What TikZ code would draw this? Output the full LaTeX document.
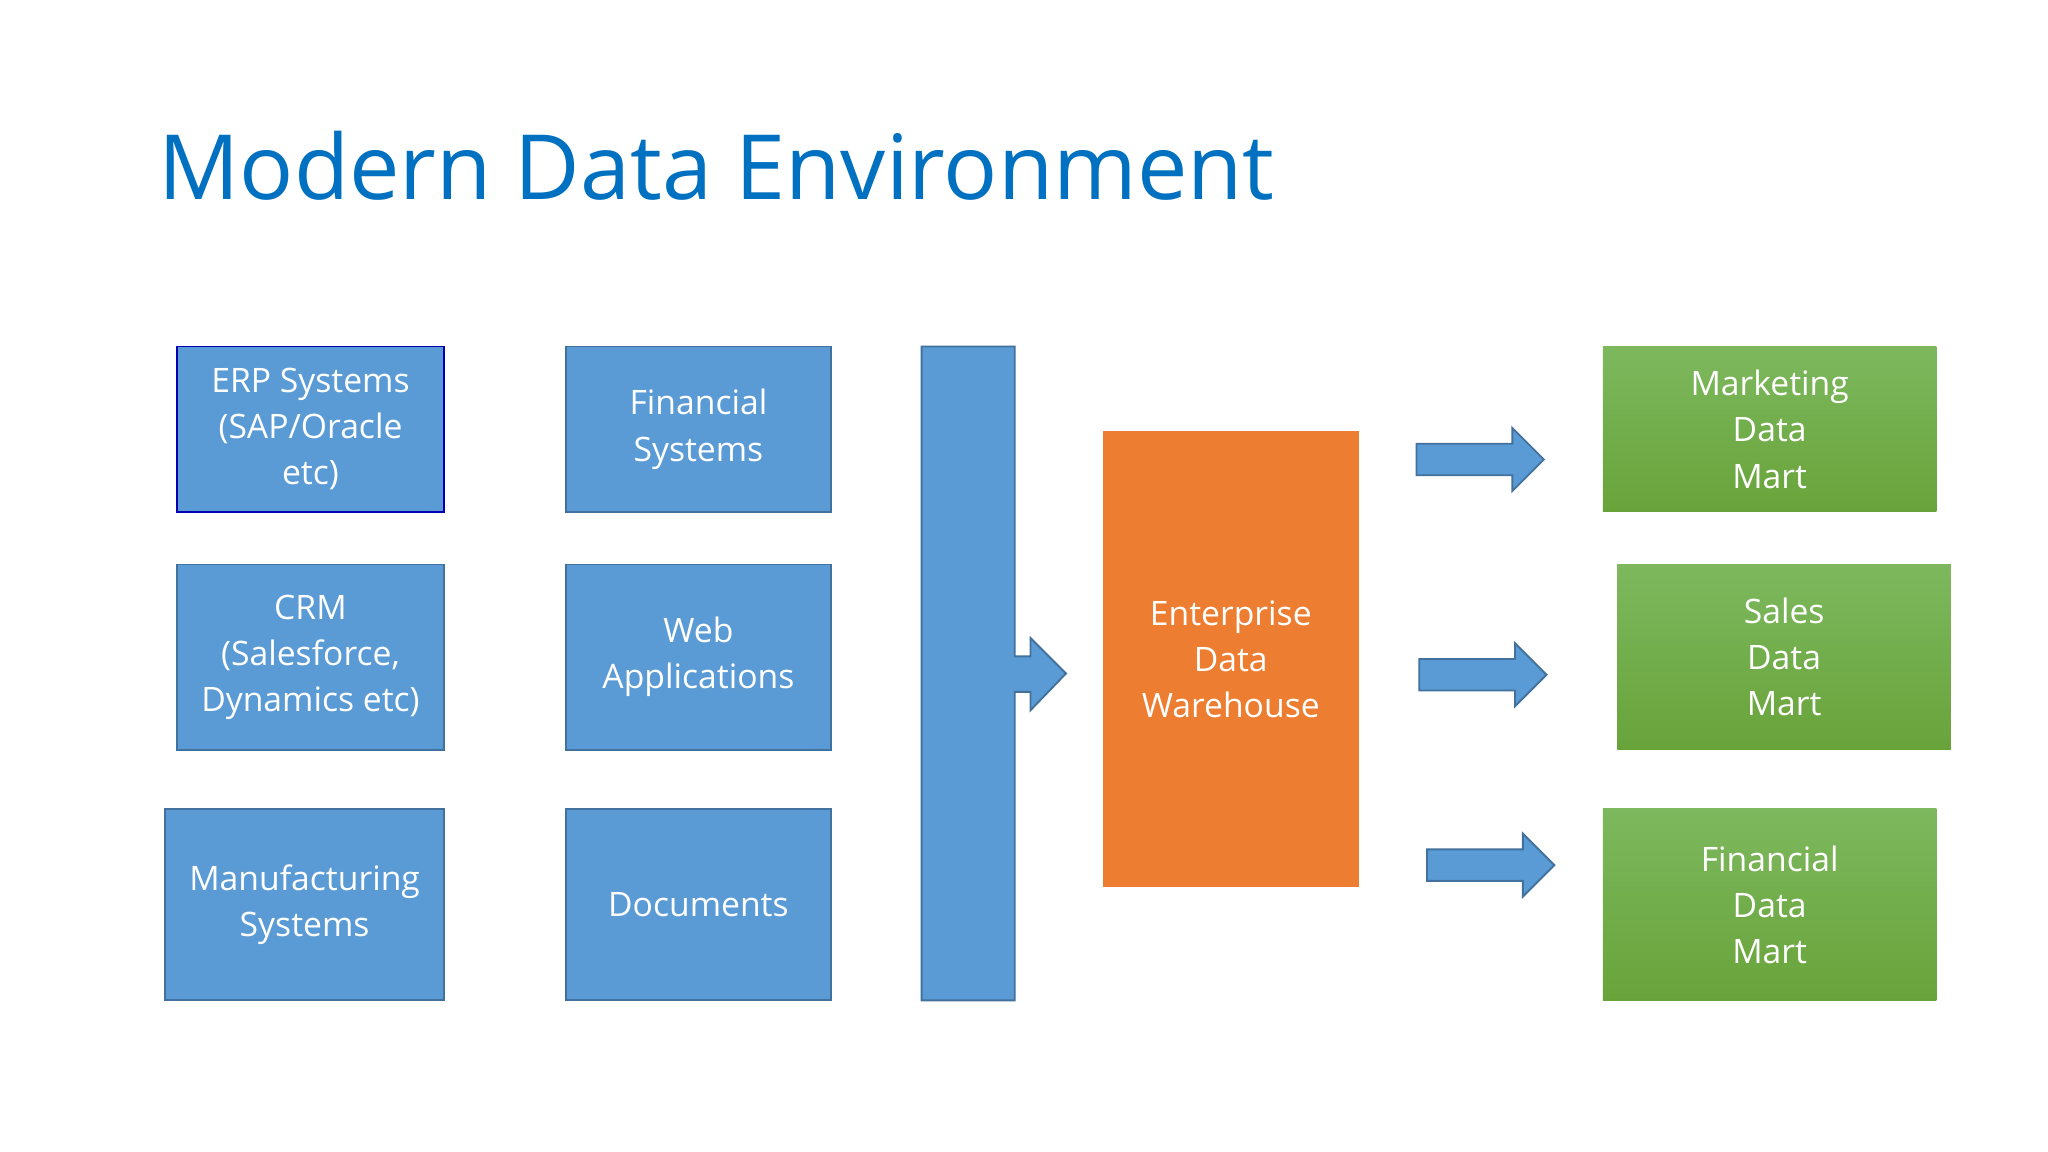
\documentclass[tikz,border=0pt]{standalone}
\usepackage{fontspec}
\setmainfont{Open Sans}
\begin{document}
\begin{tikzpicture}[x=0.1mm,y=-0.1mm,
 src/.style={draw=arrb, fill=srcblue, line width=0.4pt, text=white, align=center, font=\fontsize{7.3}{10}\selectfont, inner sep=0pt},
 mart/.style={draw=none, top color=mtop, bottom color=mbot, text=white, align=center, font=\fontsize{7.3}{10}\selectfont, inner sep=0pt},
 core/.style={draw=none, fill=edwc, text=white, align=center, font=\fontsize{7.3}{10}\selectfont, inner sep=0pt},
 arr/.style={fill=srcblue, draw=arrb, line width=0.4pt}]
\definecolor{srcblue}{HTML}{5B9BD5}
\definecolor{arrb}{HTML}{41719C}
\definecolor{mtop}{HTML}{7DB85E}
\definecolor{mbot}{HTML}{68A33A}
\definecolor{edwc}{HTML}{ED7D31}
\definecolor{titleblue}{HTML}{0070C0}
\useasboundingbox[fill=white] (0,0) rectangle (1560,877.5);
\node[anchor=base west, text=titleblue, font=\fontsize{19.5}{22}\selectfont, inner sep=0pt] (title) at (120,152) {Modern Data Environment};
\newcommand\bx[6]{\node[#1, minimum width={(#4-#2)*0.1mm}, minimum height={(#5-#3)*0.1mm}] (#6) at ({(#2+#4)/2},{(#3+#5)/2})}
\bx{src,draw=blue!70!black}{135}{264}{338}{390}{erp} {ERP Systems\\(SAP/Oracle\\etc)};
\bx{src}{431}{264}{633}{390}{fin} {Financial\\Systems};
\bx{src}{135}{430}{338}{571}{crm} {CRM\\(Salesforce,\\Dynamics etc)};
\bx{src}{431}{430}{633}{571}{web} {Web\\Applications};
\bx{src}{126}{616}{338}{762}{man} {Manufacturing\\Systems};
\bx{src}{431}{616}{633}{762}{doc} {Documents};
\draw[arr] (702,264) -- (773,264) -- (773,500) -- (785,500) -- (785,486) -- (812,513) -- (785,541) -- (785,527) -- (773,527) -- (773,762) -- (702,762) -- cycle;
\bx{core}{840}{328}{1035}{676}{edw} {Enterprise\\Data\\Warehouse};
\newcommand\rarrow[3]{\draw[arr] (#1,{#3-12}) -- (#2,{#3-12}) -- (#2,{#3-24}) -- ({#2+24},#3) -- (#2,{#3+24}) -- (#2,{#3+12}) -- (#1,{#3+12}) -- cycle;}
\rarrow{1079}{1152}{350}
\rarrow{1081}{1154}{514}
\rarrow{1087}{1160}{659}
\bx{mart}{1221}{264}{1475}{390}{mkt} {Marketing\\Data\\Mart};
\bx{mart}{1232}{430}{1486}{571}{sal} {Sales\\Data\\Mart};
\bx{mart}{1221}{616}{1475}{762}{fdm} {Financial\\Data\\Mart};
\end{tikzpicture}
\end{document}
